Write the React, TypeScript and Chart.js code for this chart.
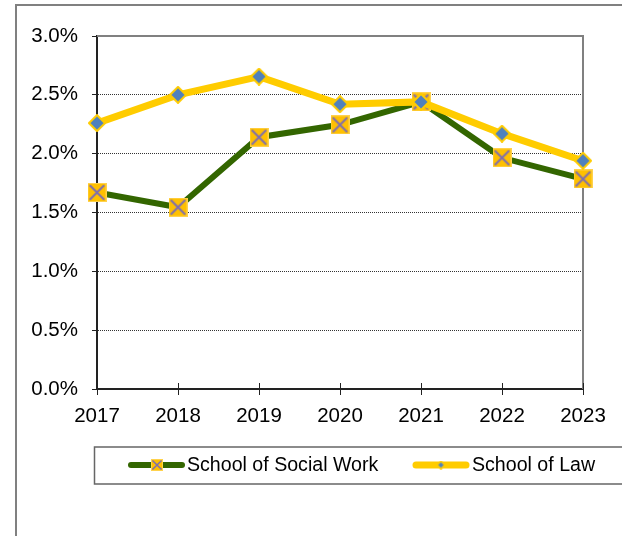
import React, { useEffect, useRef } from "react";
import { Chart, registerables } from "chart.js";

Chart.register(...registerables);

const years = ["2017", "2018", "2019", "2020", "2021", "2022", "2023"];
const socialWork = [1.67, 1.545, 2.14, 2.245, 2.44, 1.965, 1.785];
const law = [2.26, 2.5, 2.655, 2.42, 2.44, 2.17, 1.94];
const seriesNames = ["School of Social Work", "School of Law"];
const yMin = 0;
const yMax = 3;
const yStep = 0.5;

const FONT = "'Liberation Sans', Arial, sans-serif";
const GREEN = "#336600";
const GOLD = "#FFCC00";
const SQUARE_FILL = "#FFC000";
const PURPLE = "#7F6FAE";
const BLUE = "#4F81BD";

function makeSquare(size: number, lw: number) {
  const c = document.createElement("canvas");
  c.width = size;
  c.height = size;
  const g = c.getContext("2d")!;
  g.fillStyle = SQUARE_FILL;
  g.fillRect(0, 0, size, size);
  g.strokeStyle = "#FFD24D";
  g.lineWidth = 1;
  g.strokeRect(0.5, 0.5, size - 1, size - 1);
  g.strokeStyle = PURPLE;
  g.lineWidth = lw;
  const m = size * 0.12;
  g.beginPath();
  g.moveTo(m, m);
  g.lineTo(size - m, size - m);
  g.moveTo(size - m, m);
  g.lineTo(m, size - m);
  g.stroke();
  return c;
}

function makeDiamond(size: number, lw: number) {
  const c = document.createElement("canvas");
  c.width = size;
  c.height = size;
  const g = c.getContext("2d")!;
  const h = size / 2;
  const r = h - lw / 2;
  g.beginPath();
  g.moveTo(h, h - r);
  g.lineTo(h + r, h);
  g.lineTo(h, h + r);
  g.lineTo(h - r, h);
  g.closePath();
  g.fillStyle = BLUE;
  g.fill();
  g.strokeStyle = GOLD;
  g.lineWidth = lw;
  g.stroke();
  return c;
}

export default function App() {
  const ref = useRef<HTMLCanvasElement | null>(null);

  useEffect(() => {
    const canvas = ref.current!;
    const sq = makeSquare(19, 2);
    const dm = makeDiamond(18, 2);
    const sqSmall = makeSquare(12, 1.5);
    const dmSmall = makeDiamond(9, 1.5);

    const decor = {
      id: "decor",
      beforeDatasetsDraw(chart: any) {
        const ctx = chart.ctx;
        const a = chart.chartArea;
        ctx.save();
        ctx.strokeStyle = "#808080";
        ctx.lineWidth = 2;
        ctx.beginPath();
        ctx.moveTo(16, 540);
        ctx.lineTo(16, 5);
        ctx.lineTo(630, 5);
        ctx.stroke();
        ctx.beginPath();
        ctx.moveTo(a.left, a.top);
        ctx.lineTo(a.right, a.top);
        ctx.lineTo(a.right, a.bottom);
        ctx.stroke();
        const xs = chart.scales.x;
        ctx.strokeStyle = "#222";
        ctx.lineWidth = 1;
        for (let i = 0; i < xs.ticks.length; i++) {
          const px = Math.round(xs.getPixelForTick(i)) + 0.5;
          ctx.beginPath();
          ctx.moveTo(px, a.bottom - 6);
          ctx.lineTo(px, a.bottom);
          ctx.stroke();
        }
        ctx.restore();
      },
      afterDraw(chart: any) {
        const ctx = chart.ctx;
        ctx.save();
        ctx.strokeStyle = "#666";
        ctx.lineWidth = 1.5;
        ctx.beginPath();
        ctx.moveTo(640, 447);
        ctx.lineTo(94.5, 447);
        ctx.lineTo(94.5, 484);
        ctx.lineTo(640, 484);
        ctx.stroke();
        const cy = 465;
        ctx.lineCap = "round";
        ctx.strokeStyle = GREEN;
        ctx.lineWidth = 6;
        ctx.beginPath();
        ctx.moveTo(131, cy);
        ctx.lineTo(182, cy);
        ctx.stroke();
        ctx.drawImage(sqSmall, 157 - 6, cy - 6);
        ctx.strokeStyle = GOLD;
        ctx.lineWidth = 7;
        ctx.beginPath();
        ctx.moveTo(416, cy);
        ctx.lineTo(466, cy);
        ctx.stroke();
        ctx.drawImage(dmSmall, 441 - 4.5, cy - 4.5);
        ctx.fillStyle = "#000";
        ctx.font = `19.6px ${FONT}`;
        ctx.textBaseline = "middle";
        ctx.textAlign = "left";
        ctx.fillText(seriesNames[0], 187, cy + 1);
        ctx.fillText(seriesNames[1], 472, cy + 1);
        ctx.restore();
      },
    };

    const chart = new Chart(canvas, {
      type: "line",
      data: {
        labels: years,
        datasets: [
          {
            label: seriesNames[1],
            data: law,
            borderColor: GOLD,
            borderWidth: 7,
            pointStyle: dm as any,
            pointRadius: 9,
            tension: 0,
            order: 0,
          },
          {
            label: seriesNames[0],
            data: socialWork,
            borderColor: GREEN,
            borderWidth: 6,
            pointStyle: sq as any,
            pointRadius: 10,
            tension: 0,
            order: 1,
          },
        ],
      },
      options: {
        animation: false,
        responsive: false,
        devicePixelRatio: 1,
        layout: { padding: { top: 36, right: 39, left: 0, bottom: 107 } },
        plugins: { legend: { display: false }, tooltip: { enabled: false } },
        scales: {
          x: {
            offset: false,
            afterFit: (s: any) => {
              s.height = 40;
            },
            grid: {
              drawOnChartArea: false,
              drawTicks: true,
              tickLength: 6,
              tickColor: "#222",
            },
            border: { color: "#222", width: 2 },
            ticks: {
              color: "#000",
              font: { family: FONT, size: 20.5 },
              padding: 9,
              maxRotation: 0,
            },
          },
          y: {
            min: yMin,
            max: yMax,
            afterFit: (s: any) => {
              s.width = 97;
            },
            grid: {
              color: (c: any) =>
                c.tick && (c.tick.value === yMin || c.tick.value === yMax)
                  ? "rgba(0,0,0,0)"
                  : "#333",
              lineWidth: 1,
              drawTicks: true,
              tickLength: 5,
              tickColor: "#222",
              tickBorderDash: [],
            },
            border: { color: "#222", width: 2, dash: [1, 1] },
            ticks: {
              stepSize: yStep,
              color: "#000",
              font: { family: FONT, size: 20.5 },
              padding: 14,
              callback: (v: any) => Number(v).toFixed(1) + "%",
            },
          },
        },
      },
      plugins: [decor],
    });
    return () => chart.destroy();
  }, []);

  return (
    <div style={{ position: "fixed", left: 0, top: 0, width: 622, height: 536, background: "#fff" }}>
      <canvas ref={ref} width={622} height={536} style={{ display: "block" }} />
    </div>
  );
}
